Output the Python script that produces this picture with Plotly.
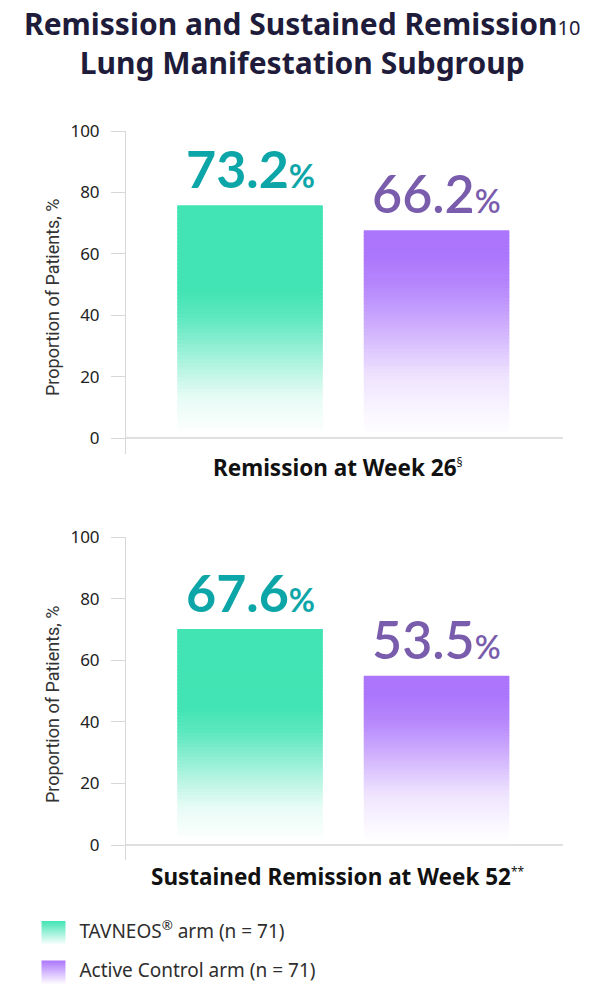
import plotly.graph_objects as go

# data
arms = ["TAVNEOS® arm (n = 71)", "Active Control arm (n = 71)"]
legend_labels = ["TAVNEOS<sup>®</sup> arm (n = 71)", "Active Control arm (n = 71)"]
remission_wk26 = [73.2, 66.2]
sustained_wk52 = [67.6, 53.5]
panel_titles = ["Remission at Week 26", "Sustained Remission at Week 52"]
panel_notes = ["§", "**"]
y_ticks = [0, 20, 40, 60, 80, 100]

# style
BAR_BASE = [2.6, 1.5]
BAR_RGB = [(66, 228, 180), (172, 118, 252)]
LABEL_COLORS = ["#0DA6A8", "#7A5CAC"]
LABEL_WEIGHTS = ["bold", 600]
# opacity stops along the bar (0 = bottom, 1 = top)
FADE = [
    [(0, 0.02), (0.14, 0.12), (0.26, 0.35), (0.38, 0.6), (0.5, 0.85), (0.62, 1), (1, 1)],
    [(0, 0.01), (0.11, 0.07), (0.28, 0.2), (0.44, 0.45), (0.57, 0.65), (0.73, 0.88), (0.88, 1), (1, 1)],
]
N_SEG = 60
W, H = 604, 986
OFF = 8  # page body margin


def px(x):
    return (x - OFF) / W


def py(y):
    return 1 - (y - OFF) / H


def fade_at(stops, t):
    for (t0, a0), (t1, a1) in zip(stops, stops[1:]):
        if t <= t1:
            return a0 + (a1 - a0) * (t - t0) / (t1 - t0)
    return stops[-1][1]


def mix(rgb, a):
    r, g, b = (round(255 - a * (255 - c)) for c in rgb)
    return f"rgb({r},{g},{b})"


fig = go.Figure()

panels = [remission_wk26, sustained_wk52]
for p, values in enumerate(panels):
    ax = "" if p == 0 else "2"
    for i in range(N_SEG):
        t = (i + 0.5) / N_SEG
        steps = [v / N_SEG for v in values]
        heights = [s * (1.6 if i < N_SEG - 1 else 1) for s in steps]
        fig.add_trace(go.Bar(
            x=arms, y=heights,
            base=[BAR_BASE[k] + i * steps[k] for k in range(2)],
            marker=dict(color=[mix(BAR_RGB[k], fade_at(FADE[k], t)) for k in range(2)],
                        line=dict(width=0)),
            width=0.78, showlegend=False, hoverinfo="skip",
            xaxis="x" + ax, yaxis="y" + ax,
        ))
    for k, v in enumerate(values):
        fig.add_annotation(
            x=arms[k], y=BAR_BASE[k] + v, xref="x" + ax, yref="y" + ax,
            text=f"{v:.1f}<span style='font-size:32px'>%</span>",
            showarrow=False, yanchor="bottom", yshift=4,
            font=dict(family="Lato", size=52, color=LABEL_COLORS[k], weight=LABEL_WEIGHTS[k]),
        )

# legend swatches
fig.add_trace(go.Scatter(
    x=[0, 0], y=arms, mode="markers+text",
    text=["  " + s for s in legend_labels], textposition="middle right",
    textfont=dict(family="Noto Sans", size=19, color="#2e2e2e"),
    marker=dict(symbol="square", size=24, color=["rgb(%d,%d,%d)" % c for c in BAR_RGB],
                gradient=dict(type="vertical", color="white")),
    showlegend=False, hoverinfo="skip", xaxis="x3", yaxis="y3",
))

yax = dict(
    range=[-5, 100], tickvals=y_ticks, ticks="outside", ticklen=14, tickcolor="#d8d8d8",
    showline=True, linecolor="#d8d8d8", linewidth=1, showgrid=False,
    zeroline=True, zerolinecolor="#e0e0e0", zerolinewidth=2,
    tickfont=dict(family="Noto Sans", size=17, color="#222222"), ticklabelstandoff=8,
    fixedrange=True, automargin=False,
)
xax = dict(range=[-0.665, 1.678], showticklabels=False, showgrid=False, zeroline=False,
           showline=False, ticks="", domain=[px(126), px(563)], automargin=False)

# legend axis: marker centres at (53.5, 933) and (53.5, 972.5)
leg_dom = [0, 0.1]
f0 = (py(933) - leg_dom[0]) / (leg_dom[1] - leg_dom[0])
f1 = (py(972.5) - leg_dom[0]) / (leg_dom[1] - leg_dom[0])
span = 1 / (f1 - f0)
r0 = -f0 * span

fig.update_layout(
    width=W, height=H, margin=dict(l=0, r=0, t=0, b=0, pad=0, autoexpand=False),
    paper_bgcolor="white", plot_bgcolor="white", barmode="overlay", showlegend=False,
    xaxis=dict(xax, anchor="y"),
    yaxis=dict(yax, domain=[py(453.7), py(131)], anchor="x"),
    xaxis2=dict(xax, anchor="y2"),
    yaxis2=dict(yax, domain=[py(860.4), py(537.3)], anchor="x2"),
    xaxis3=dict(range=[-(53.5 - OFF), W - (53.5 - OFF)], domain=[0, 1], visible=False, anchor="y3"),
    yaxis3=dict(type="category", range=[r0, r0 + span], domain=leg_dom, visible=False, anchor="x3"),
)

# title
fig.add_annotation(
    x=px(302), y=py(43), xref="paper", yref="paper", xanchor="center", yanchor="middle",
    text="Remission and Sustained Remission"
         "<span style='font-size:20px;font-weight:normal'>10</span>"
         "<br>Lung Manifestation Subgroup",
    showarrow=False, font=dict(family="Noto Sans", size=30, color="#1E1C3A", weight="bold"),
)

# panel titles and y-axis titles
for p, (ttl, note) in enumerate(zip(panel_titles, panel_notes)):
    ty = [468, 876][p]
    fig.add_annotation(
        x=px(338), y=py(ty), xref="paper", yref="paper", xanchor="center", yanchor="middle",
        text=f"{ttl}<sup><span style='font-size:12px;font-weight:normal'>{note}</span></sup>",
        showarrow=False, font=dict(family="Noto Sans", size=22.5, color="#111111", weight="bold"),
    )
    cy = [297, 704][p]
    fig.add_annotation(
        x=px(52), y=py(cy), xref="paper", yref="paper", xanchor="center", yanchor="middle",
        text="Proportion of Patients, %", textangle=-90, showarrow=False,
        font=dict(family="Roboto", size=18, color="#333333"),
    )

fig.write_html("out.html")
